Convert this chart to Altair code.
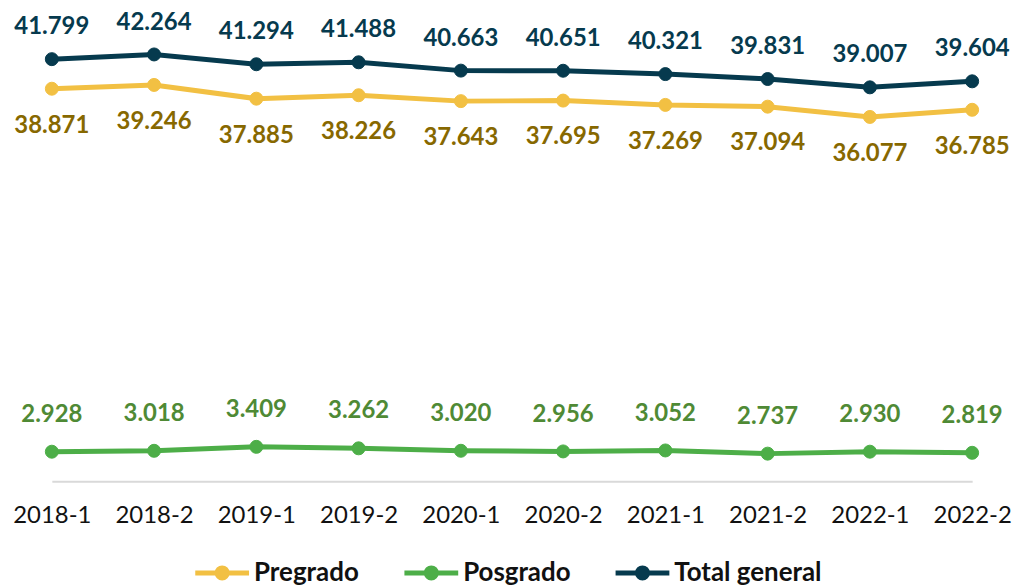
import altair as alt
import pandas as pd

periods = ["2018-1", "2018-2", "2019-1", "2019-2", "2020-1", "2020-2", "2021-1", "2021-2", "2022-1", "2022-2"]
pregrado = [38871, 39246, 37885, 38226, 37643, 37695, 37269, 37094, 36077, 36785]
posgrado = [2928, 3018, 3409, 3262, 3020, 2956, 3052, 2737, 2930, 2819]
total = [41799, 42264, 41294, 41488, 40663, 40651, 40321, 39831, 39007, 39604]

series_names = ["Pregrado", "Posgrado", "Total general"]
line_colors = ["#F2C043", "#4DAE48", "#063A4E"]
label_colors = ["#876800", "#4F8A35", "#063A4E"]
label_dy = [37, -37, -32]

rows = []
for name, vals in zip(series_names, [pregrado, posgrado, total]):
    for p, v in zip(periods, vals):
        rows.append({"periodo": p, "serie": name, "valor": v,
                     "etiqueta": f"{v:,}".replace(",", ".")})
df = pd.DataFrame(rows)

FONT = "Lato"
x = alt.X("periodo:N", sort=periods, title=None,
          scale=alt.Scale(type="point", range=[44, 968], padding=0),
          axis=alt.Axis(labelAngle=0, labelFontSize=24, labelFont=FONT, labelColor="#111111",
                        ticks=False, domainColor="#d9d9d9", domainWidth=2, labelPadding=22,
                        grid=False))
y = alt.Y("valor:Q", axis=None, scale=alt.Scale(domain=[0, 46750], nice=False, zero=True))
color_scale = alt.Scale(domain=series_names, range=line_colors)

sym = "M-2.7,0L2.7,0M-0.5,0A0.5,0.5,0,1,1,0.5,0A0.5,0.5,0,1,1,-0.5,0Z"
legend = alt.Legend(orient="none", direction="horizontal", legendX=202, legendY=553,
                    symbolType=sym, symbolSize=400, symbolStrokeWidth=5, symbolOpacity=1,
                    symbolFillColor="#888888",
                    labelFont=FONT, labelFontSize=26, labelFontWeight="bold",
                    labelColor="#111111", columnPadding=35, labelOffset=19)

base = alt.Chart(df)

lines = base.mark_line(strokeWidth=5).encode(
    x=x, y=y,
    stroke=alt.Stroke("serie:N", scale=color_scale, sort=series_names, title=None, legend=legend))

points = base.mark_point(filled=False, size=170, opacity=1, strokeWidth=1, fillOpacity=1).encode(
    x=x, y=y,
    stroke=alt.Stroke("serie:N", scale=color_scale, sort=series_names, title=None, legend=legend),
    fill=alt.Fill("serie:N", scale=color_scale, sort=series_names, title=None, legend=legend))

texts = []
for name, lc, dy in zip(series_names, label_colors, label_dy):
    texts.append(base.transform_filter(alt.datum.serie == name).mark_text(
        font=FONT, fontSize=24, fontWeight="bold", color=lc, dy=dy).encode(
        x=x, y=y, text="etiqueta:N"))

chart = alt.layer(lines, points, *texts).properties(
    width=1004, height=474, padding=0
).configure_view(stroke=None)

chart.save("out.html", embed_options={"renderer": "svg", "actions": False})
